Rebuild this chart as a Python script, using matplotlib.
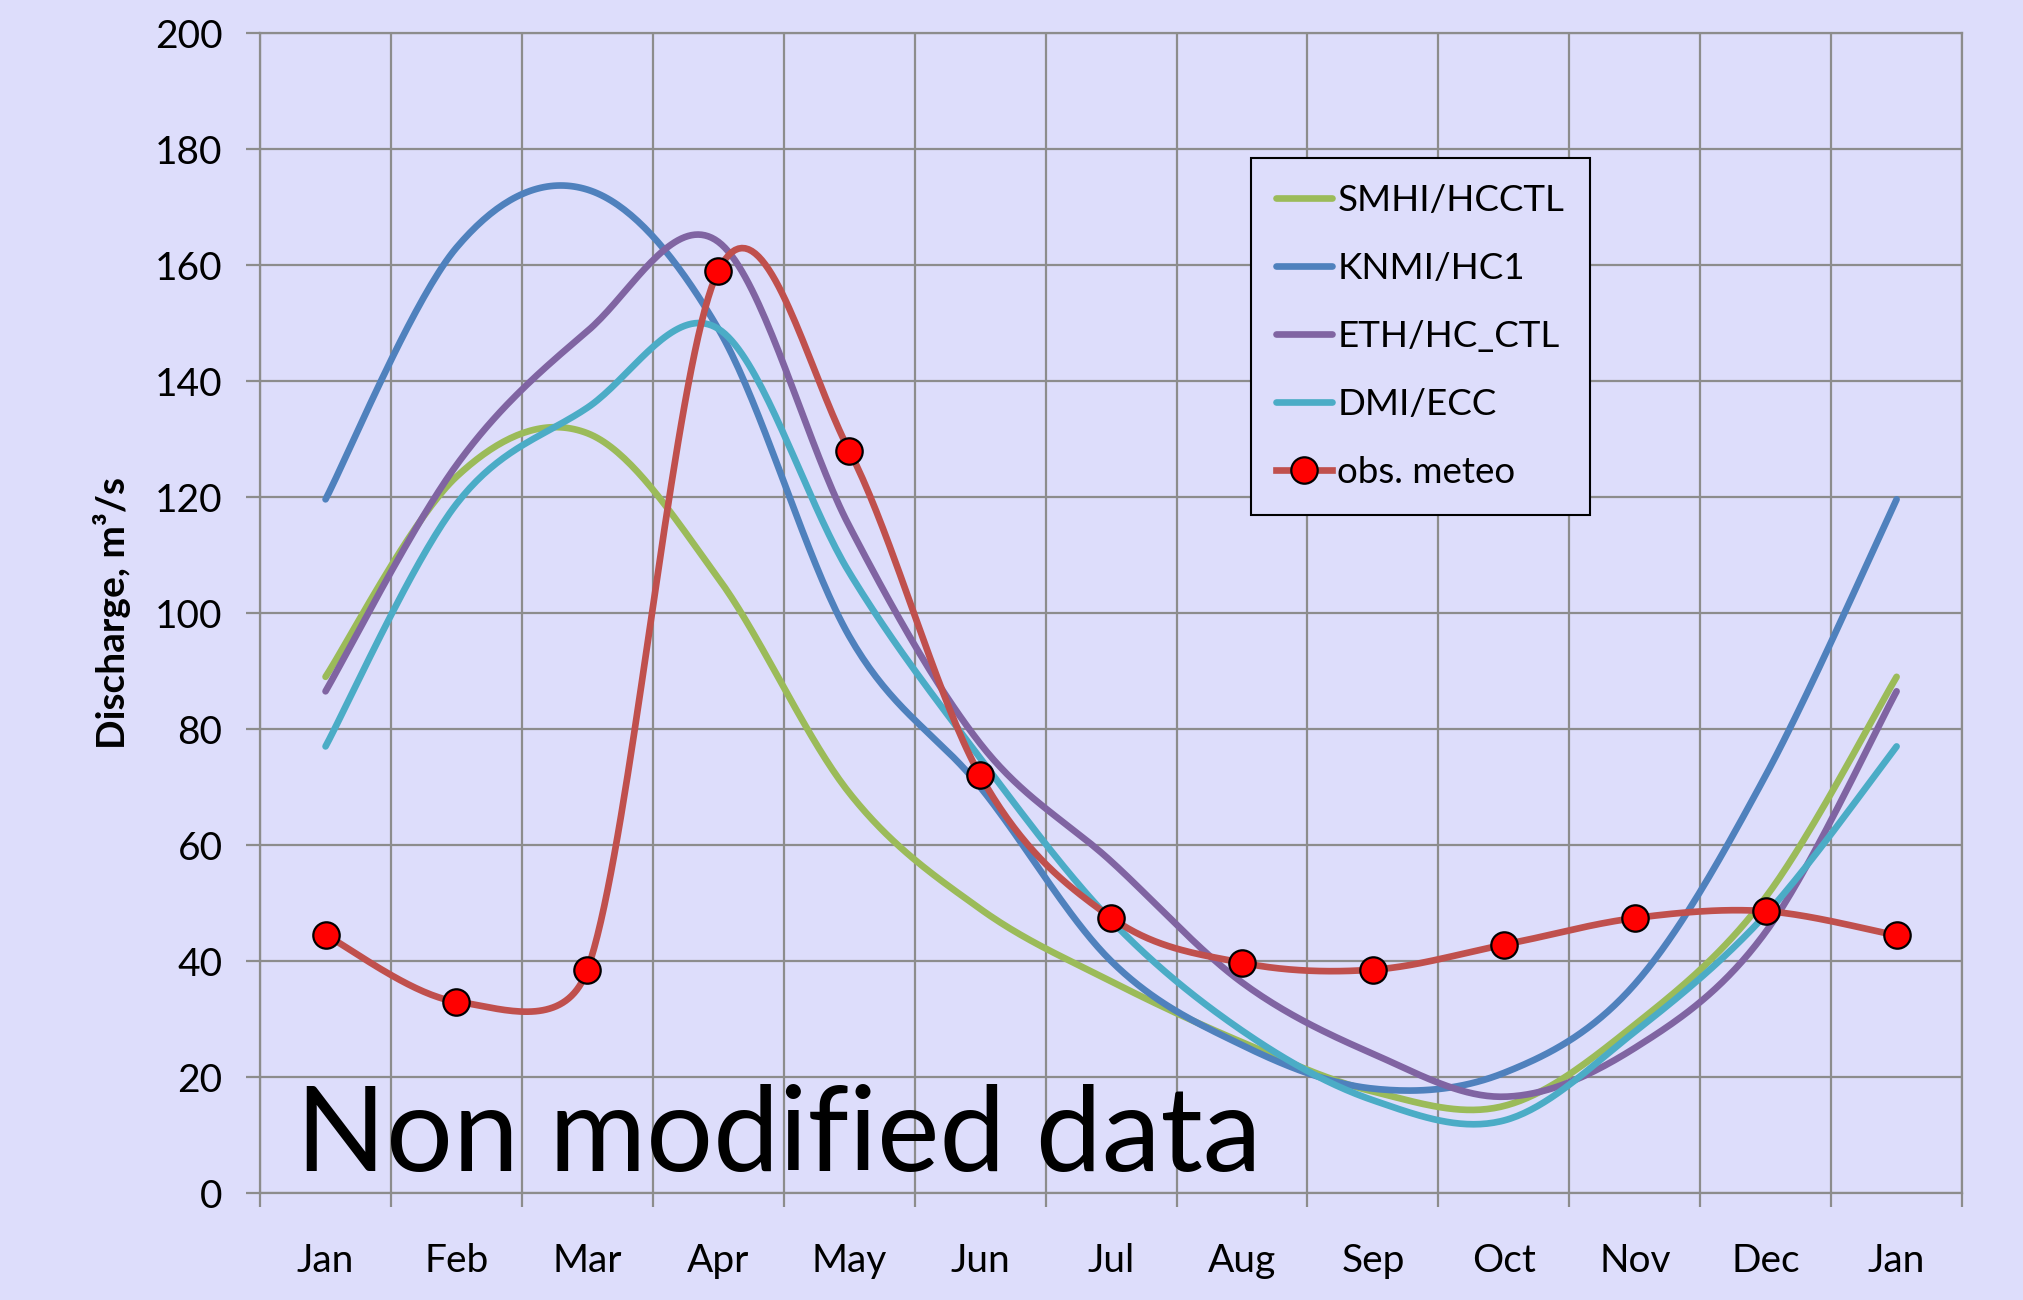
"""Monthly discharge: four regional climate model runs vs. observed meteo, Excel-style smoothed lines."""

import matplotlib
matplotlib.use("Agg")
import matplotlib.pyplot as plt
import numpy as np

months = ["Jan", "Feb", "Mar", "Apr", "May", "Jun", "Jul",
          "Aug", "Sep", "Oct", "Nov", "Dec", "Jan"]

smhi = [89, 123.5, 131, 106, 69, 49, 36.5, 26, 17.5, 15, 29, 51, 89]
knmi = [119.6, 163, 173, 149, 96, 70, 40, 25.5, 18, 20.7, 36, 72, 119.6]
eth = [86.5, 125.5, 148.6, 164, 115, 77.5, 57.2, 36.3, 24, 16.6, 25, 45, 86.5]
dmi = [77, 118.8, 135.4, 149, 107, 75, 47, 28, 16, 12.5, 27.8, 48, 77]
obs = [44.5, 33, 38.5, 159, 128, 72, 47.5, 39.7, 38.5, 42.8, 47.4, 48.6, 44.4]

series_names = ["SMHI/HCCTL", "KNMI/HC1", "ETH/HC_CTL", "DMI/ECC"]
series_values = [smhi, knmi, eth, dmi]
series_colors = ["#9BBB59", "#4F81BD", "#8064A2", "#4BACC6"]
obs_name = "obs. meteo"
obs_color = "#C0504D"

BG = "#DDDDFB"
GRID = "#8C8C8C"
FONT = "Lato"
LW = 4.8


def smooth_line(ax, y, n=40):
    """Excel-like smoothed line: cubic Bezier through the points, built in screen space.

    Control arms are 1/6 of the neighbour chord, clipped to half the segment length.
    """
    x = np.arange(len(y), dtype=float)
    pts = ax.transData.transform(np.column_stack([x, y]))
    out = []
    for i in range(len(pts) - 1):
        p0 = pts[max(i - 1, 0)]
        p1 = pts[i]
        p2 = pts[i + 1]
        p3 = pts[min(i + 2, len(pts) - 1)]
        d12 = np.hypot(*(p2 - p1))
        d02 = np.hypot(*(p2 - p0))
        d13 = np.hypot(*(p3 - p1))
        f1 = 1 / 6 if d02 / 6 < d12 / 2 else d12 / 2 / d02
        f2 = 1 / 6 if d13 / 6 < d12 / 2 else d12 / 2 / d13
        c1 = p1 + f1 * (p2 - p0)
        c2 = p2 - f2 * (p3 - p1)
        t = np.linspace(0, 1, n)[:, None]
        seg = ((1 - t) ** 3 * p1 + 3 * (1 - t) ** 2 * t * c1
               + 3 * (1 - t) * t ** 2 * c2 + t ** 3 * p2)
        out.append(seg if i == 0 else seg[1:])
    curve = ax.transData.inverted().transform(np.vstack(out))
    return curve[:, 0], curve[:, 1]


fig = plt.figure(figsize=(20.24, 13.0), dpi=100, facecolor=BG)
ax = fig.add_axes([0.1285, 0.0823, 0.8409, 0.8923], facecolor=BG)
ax.set_xlim(-0.5, len(months) - 0.5)
ax.set_ylim(0, 200)

# grid at category boundaries and every 20 units
ax.set_xticks(np.arange(len(months)))
ax.set_xticklabels(months, family=FONT, fontsize=28)
ax.set_xticks(np.arange(len(months) + 1) - 0.5, minor=True)
ax.set_yticks(np.arange(0, 201, 20))
ax.set_yticklabels([str(v) for v in range(0, 201, 20)], family=FONT, fontsize=28)
ax.grid(True, which="minor", axis="x", color=GRID, lw=1.6)
ax.grid(True, which="major", axis="y", color=GRID, lw=1.6)
ax.tick_params(axis="x", which="major", length=0, pad=36)
ax.tick_params(axis="x", which="minor", length=10, width=1.6, color=GRID, direction="out")
ax.tick_params(axis="y", which="major", length=10, width=1.6, color=GRID, pad=17)
for sp in ax.spines.values():
    sp.set_color(GRID)
    sp.set_linewidth(1.6)
ax.set_axisbelow(True)

for name, vals, col in zip(series_names, series_values, series_colors):
    xs, ys = smooth_line(ax, vals)
    ax.plot(xs, ys, color=col, lw=LW, solid_capstyle="round", label=name)

xs, ys = smooth_line(ax, obs)
ax.plot(xs, ys, color=obs_color, lw=LW, solid_capstyle="round", zorder=3)
ax.plot(np.arange(len(obs)), obs, ls="none", marker="o", ms=19,
        mfc="#FF0000", mec="black", mew=1.6, zorder=4)
# legend proxy for line + marker
ax.plot([], [], color=obs_color, lw=LW, marker="o", ms=19,
        mfc="#FF0000", mec="black", mew=1.6, label=obs_name)

leg = ax.legend(loc="upper left", bbox_to_anchor=(0.582, 0.892),
                prop={"family": FONT, "size": 26.5}, frameon=True, fancybox=False,
                handlelength=1.52, handletextpad=0.14, labelspacing=0.95,
                borderpad=0.7, borderaxespad=0)
leg.get_frame().set_edgecolor("black")
leg.get_frame().set_linewidth(1.5)
leg.get_frame().set_facecolor(BG)
leg.get_frame().set_alpha(1)

ax.text(-0.087, 0.5, "Discharge, m³/s", transform=ax.transAxes, rotation=90,
        ha="center", va="center", family=FONT, fontsize=28, fontweight="bold")
ax.text(0.021, 0.019, "Non modified data", transform=ax.transAxes,
        ha="left", va="baseline", family=FONT, fontsize=85)

fig.savefig("out.png", dpi=100, facecolor=BG)
